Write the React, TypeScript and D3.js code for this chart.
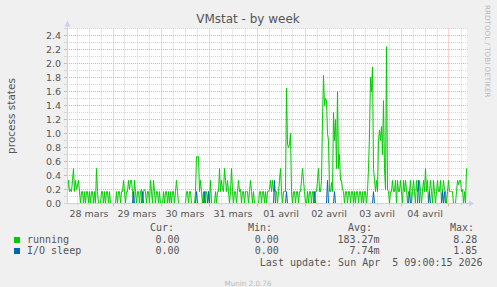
import React from 'react';
import * as d3 from 'd3';

const WIDTH = 497;
const HEIGHT = 287;
const STEP_MS = 30 * 60 * 1000;
const START = Date.UTC(2026, 2, 28, 1, 0);
const END = Date.UTC(2026, 3, 5, 9, 0);

// running processes, one value per 30 min (400 points)
const running = [
  0.17,0.33,0.17,0.2,0.17,0.33,0.5,0.17,0.33,0.2,
  0.25,0.33,0.17,0,0.17,0.17,0,0.17,0,0.17,
  0.17,0,0.17,0,0.17,0.17,0,0.17,0,0.5,
  0.17,0,0,0,0.17,0.17,0,0.17,0,0.17,
  0.17,0,0.17,0,0,0,0,
  0,0,0.17,0,0.17,0.17,0,0.17,0.17,0.33,
  0.17,0,0.17,0.17,0.33,0.2,0.33,0.33,0.17,0,
  0.33,0.17,0,0.17,0.17,0,0.17,0.2,0,0.17,
  0.2,0.17,0,0.17,0.17,0,0.33,0.17,0,0.33,
  0.17,0,0.17,0.17,0,0.17,0,0,
  0,0.17,0,0.17,0.17,0,0.17,0,0.17,0,
  0.17,0.17,0,0.17,0.33,0.17,0,0,0,0,
  0,0,0,0,0.17,0.17,0,0.17,0.17,0,
  0,0,0,0.17,0.67,0.67,0.67,0.17,0.33,0.17,
  0,0.17,0,0.17,0.17,0,0.17,0,
  0.33,0,0,0,0,0.17,0,0.17,0.17,0.5,
  0.17,0.33,0.2,0.17,0.5,0.33,0.17,0.33,0.17,0,
  0.17,0.5,0.17,0,0.17,0.17,0,0.17,0.33,0.17,
  0.2,0,0.17,0.17,0,0.17,0.17,0.17,0,0.17,
  0.33,0.17,0,0.17,0,0,0,0,
  0,0.17,0.17,0,0.17,0.17,0,0.17,0,0.17,
  0.17,0.2,0.33,0.17,0.33,0.17,0.2,0.17,0.17,0,
  0.17,0.33,0.5,0.17,0,0.17,0.17,0.17,1.65,0.85,
  0.8,0.85,1.0,0.17,0,0.17,0.17,0,0.17,0.17,
  0,0.17,0.17,0.33,0.5,0.33,0.17,0,
  0,0.17,0,0.17,0.17,0,0.17,0.17,0,0.17,
  0.17,0.33,0.5,0.17,0.17,0.33,1.2,1.83,1.4,1.5,
  1.47,1.0,0.9,0.17,0.17,0.3,0.17,1.3,0.9,1.2,
  0.5,1.6,0.5,0.7,0.33,0.33,0.2,0.17,0,0.17,
  0.17,0,0.17,0.17,0,0.17,0.17,0,
  0.17,0,0.17,0.17,0,0.17,0.17,0,0.17,0,
  0.17,0.17,0,0.17,0.5,1.0,1.8,1.6,1.95,0.5,
  0.33,0.17,0.33,0.17,0.9,1.05,0.9,1.1,0.7,1.47,
  0.5,0.2,2.24,0.2,0.17,0,0.17,0.17,0.33,0.17,
  0.17,0.33,0,0.33,0.17,0.17,0.33,0.17,
  0,0.33,0.17,0.33,0.2,0,0.17,0.17,0.33,0,
  0.17,0.33,0.17,0,0.33,0.17,0.2,0.33,0.17,0,
  0.17,0.33,0.17,0.5,0.17,0.33,0,0.17,0.33,0.17,
  0,0.33,0.17,0,0.17,0.33,0.17,0.17,0.33,0,
  0.17,0.33,0.2,0.17,0,0.17,0.33,0.17,0.17,
  0.17,0.17,0,0,0,0.17,0.33,0.27,0.33,0.33,0.17,0.2,0,0.17,0,0.5,
];

// I/O sleep: zero except at these sample indices
const ioSleepIndex = [66, 75, 129, 137, 141, 207, 219, 247, 260, 267, 306, 342, 351, 362, 375, 377];
const ioSleepValue = [0.17, 0.17, 0.17, 0.17, 0.17, 0.33, 0.17, 0.17, 0.33, 0.17, 0.17, 0.17, 0.33, 0.17, 0.17, 0.17];

const yLabelTicks = [0, 0.2, 0.4, 0.6, 0.8, 1.0, 1.2, 1.4, 1.6, 1.8, 2.0, 2.2, 2.4];
const yMinorTicks = [0.1, 0.3, 0.5, 0.7, 0.9, 1.1, 1.3, 1.5, 1.7, 1.9, 2.1, 2.3, 2.5];

const seriesNames = ['running', 'I/O sleep'];
const seriesColors = ['#00CC00', '#0066B3'];
const legendHeaders = ['Cur:', 'Min:', 'Avg:', 'Max:'];
const curValues = ['0.00', '0.00'];
const minValues = ['0.00', '0.00'];
const avgValues = ['183.27m', '7.74m'];
const maxValues = ['8.28', '1.85'];

const frLocale = d3.timeFormatLocale({
  dateTime: '%A %e %B %Y à %X',
  date: '%d/%m/%Y',
  time: '%H:%M:%S',
  periods: ['AM', 'PM'],
  days: ['dimanche', 'lundi', 'mardi', 'mercredi', 'jeudi', 'vendredi', 'samedi'],
  shortDays: ['dim.', 'lun.', 'mar.', 'mer.', 'jeu.', 'ven.', 'sam.'],
  months: ['janvier', 'février', 'mars', 'avril', 'mai', 'juin', 'juillet', 'août', 'septembre', 'octobre', 'novembre', 'décembre'],
  shortMonths: ['janv.', 'févr.', 'mars', 'avr.', 'mai', 'juin', 'juil.', 'août', 'sept.', 'oct.', 'nov.', 'déc.'],
});
const dayFormat = frLocale.utcFormat('%d %B');

const SANS = "'DejaVu Sans', sans-serif";
const MONO = "'DejaVu Sans Mono', monospace";
const TEXT = '#555555';
const MINOR = '#D4D4D4';
const MAJOR = '#F0A8A8';
const AXIS = '#C9CFF5';

export default function App() {
  const left = 67, right = 467, top = 28.5, bottom = 203.5;
  const x = d3.scaleUtc().domain([new Date(START), new Date(END)]).range([left, right]);
  const y = d3.scaleLinear().domain([0, 2.5]).range([bottom, top]);

  const times = running.map((_, i) => new Date(START + i * STEP_MS));
  const ioSleep = running.map(() => 0);
  ioSleepIndex.forEach((idx, k) => { ioSleep[idx] = ioSleepValue[k]; });

  const line = d3.line<number>()
    .x((_, i) => x(times[i]) + 0.5)
    .y((d) => y(d));

  const dayLines = d3.utcDay.range(new Date(START), new Date(END));
  const sixHours = d3.utcHour.every(6)!.range(new Date(START), new Date(END + 1))
    .filter((d) => d.getUTCHours() !== 0);
  const dayLabels = d3.utcDay.range(d3.utcDay.floor(new Date(START)), new Date(END))
    .map((d) => new Date(+d + 12 * 3600 * 1000))
    .filter((d) => x(d) > left && x(d) < right);

  const px = (d: Date) => Math.floor(x(d)) + 0.5;

  return (
    <svg width={WIDTH} height={HEIGHT} style={{ position: 'absolute', left: 0, top: 0, display: 'block' }}>
      <rect x={0} y={0} width={WIDTH} height={HEIGHT} fill="#F0F0F0" />
      <rect x={left} y={top} width={right - left} height={bottom - top} fill="#FFFFFF" />

      {/* minor grid */}
      {yMinorTicks.map((v) => (
        <g key={'hm' + v}>
          <line x1={left} x2={right + 0.5} y1={y(v)} y2={y(v)} stroke={MINOR} strokeDasharray="1 1" />
          <line x1={left - 3} x2={left} y1={y(v)} y2={y(v)} stroke={MINOR} />
        </g>
      ))}
      {sixHours.map((d) => (
        <g key={'vm' + +d}>
          <line x1={px(d)} x2={px(d)} y1={top} y2={bottom} stroke={MINOR} strokeDasharray="1 1" />
          <line x1={px(d)} x2={px(d)} y1={bottom} y2={bottom + 2} stroke={MINOR} />
        </g>
      ))}
      {/* major grid */}
      {yLabelTicks.map((v) => (
        <g key={'hM' + v}>
          <line x1={left} x2={right + 0.5} y1={y(v)} y2={y(v)} stroke={MAJOR} strokeDasharray="1 1" />
          <line x1={left - 3} x2={left} y1={y(v)} y2={y(v)} stroke={MAJOR} />
        </g>
      ))}
      {dayLines.map((d) => (
        <g key={'vM' + +d}>
          <line x1={px(d)} x2={px(d)} y1={top} y2={bottom} stroke={MAJOR} strokeDasharray="1 1" />
          <line x1={px(d)} x2={px(d)} y1={bottom} y2={bottom + 3} stroke={MAJOR} />
        </g>
      ))}

      {/* data */}
      <path d={line(running) || ''} fill="none" stroke={seriesColors[0]} strokeWidth={1} />
      <path d={line(ioSleep) || ''} fill="none" stroke={seriesColors[1]} strokeWidth={1} />

      {/* axes */}
      <line x1={left - 3} x2={right + 2} y1={bottom} y2={bottom} stroke={AXIS} />
      <line x1={left + 0.5} x2={left + 0.5} y1={bottom} y2={top - 2} stroke={AXIS} />
      <path d={`M${left + 0.5},${top - 8} L${left - 2.5},${top - 2} L${left + 3.5},${top - 2} Z`} fill={AXIS} />
      <path d={`M${right + 7},${bottom} L${right + 2},${bottom - 3} L${right + 2},${bottom + 3} Z`} fill={AXIS} />

      {/* y labels */}
      {yLabelTicks.map((v) => (
        <text key={'yl' + v} x={61} y={y(v) + 3.4} textAnchor="end" fontFamily={SANS} fontSize={9.5} fill={TEXT}>
          {v.toFixed(1)}
        </text>
      ))}
      {/* x labels */}
      {dayLabels.map((d) => (
        <text key={'xl' + +d} x={x(d)} y={216.5} textAnchor="middle" fontFamily={SANS} fontSize={9.5} fill={TEXT}>
          {dayFormat(d)}
        </text>
      ))}

      {/* title & axis title */}
      <text x={248} y={23} textAnchor="middle" fontFamily={SANS} fontSize={12} fill={TEXT}>VMstat - by week</text>
      <text transform="translate(15,116) rotate(-90)" textAnchor="middle" fontFamily={SANS} fontSize={10.5} fill={TEXT}>process states</text>
      <text transform="translate(484.5,5) rotate(90)" textAnchor="start" fontFamily={SANS} fontSize={7.2} fill="#BBBBBB">RRDTOOL / TOBI OETIKER</text>

      {/* legend */}
      <g fontFamily={MONO} fontSize={10} fill={TEXT}>
        <text x={174} y={231} textAnchor="end">{legendHeaders[0]}</text>
        <text x={272} y={231} textAnchor="end">{legendHeaders[1]}</text>
        <text x={372} y={231} textAnchor="end">{legendHeaders[2]}</text>
        <text x={474} y={231} textAnchor="end">{legendHeaders[3]}</text>
        {seriesNames.map((name, i) => {
          const by = 242.5 + i * 11;
          return (
            <g key={name}>
              <rect x={14} y={by - 5.5} width={6} height={6} fill={seriesColors[i]} />
              <text x={27} y={by}>{name}</text>
              <text x={179.6} y={by} textAnchor="end">{curValues[i]}</text>
              <text x={278.9} y={by} textAnchor="end">{minValues[i]}</text>
              <text x={379.6} y={by} textAnchor="end">{avgValues[i]}</text>
              <text x={477.3} y={by} textAnchor="end">{maxValues[i]}</text>
            </g>
          );
        })}
        <text x={482.6} y={266} textAnchor="end" style={{ whiteSpace: 'pre' }}>{'Last update: Sun Apr  5 09:00:15 2026'}</text>
      </g>
      <text x={248} y={285.5} textAnchor="middle" fontFamily={SANS} fontSize={7.2} fill="#BBBBBB">Munin 2.0.76</text>
    </svg>
  );
}
